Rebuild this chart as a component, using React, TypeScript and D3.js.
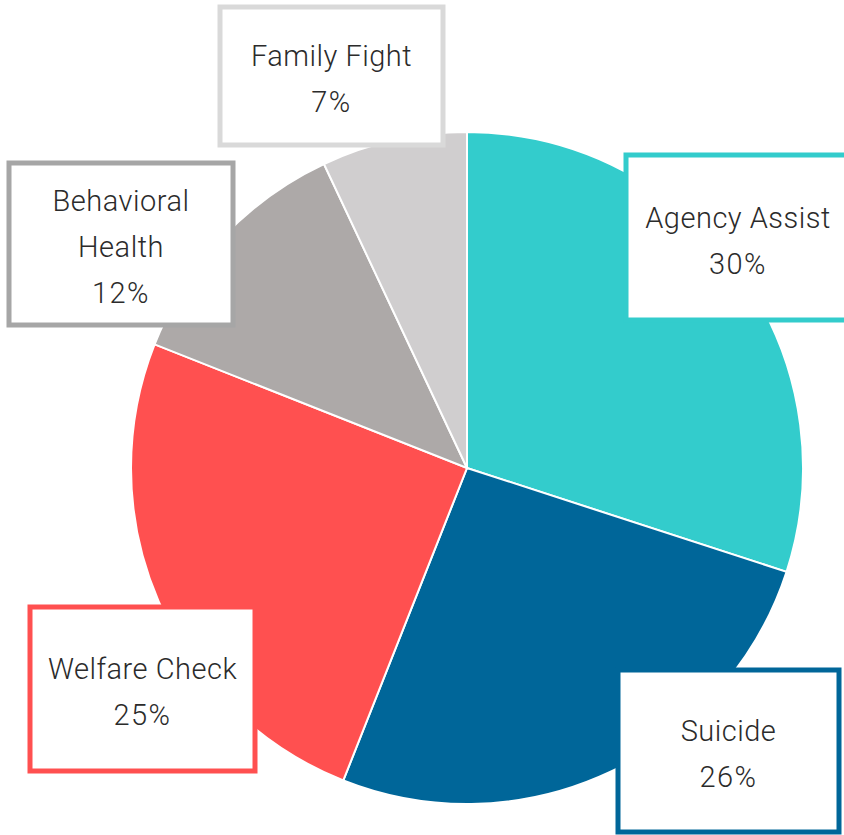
import React from "react";
import * as d3 from "d3";

const categories = ["Agency Assist", "Suicide", "Welfare Check", "Behavioral Health", "Family Fight"];
const values = [30, 26, 25, 12, 7];
const sliceColors = ["#33CCCC", "#006699", "#FF5050", "#ADA9A8", "#D0CECF"];
const borderColors = ["#33CCCC", "#006699", "#FF5050", "#A6A6A6", "#D9D9D9"];
const labelLines = [["Agency Assist"], ["Suicide"], ["Welfare Check"], ["Behavioral", "Health"], ["Family Fight"]];

// label box layout (x, y, w, h) in px
const boxes = [
  { x: 626, y: 155, w: 230, h: 165 },
  { x: 618, y: 670, w: 221, h: 162 },
  { x: 30, y: 607, w: 225, h: 164 },
  { x: 9, y: 163, w: 224, h: 162 },
  { x: 220, y: 7, w: 223, h: 138 },
];

const W = 844, H = 835;
const cx = 467, cy = 468, R = 336;

export default function App() {
  const pie = d3.pie<number>().sort(null).value((d) => d)(values);
  const arc = d3.arc<d3.PieArcDatum<number>>().innerRadius(0).outerRadius(R);
  const total = d3.sum(values);
  const fs = 29;
  const lh = 46;
  return (
    <svg width={W} height={H} style={{ position: "absolute", left: 0, top: 0, background: "#fff" }}
      fontFamily="Roboto, sans-serif">
      <g transform={`translate(${cx},${cy})`}>
        {pie.map((p, i) => (
          <path key={i} d={arc(p) || ""} fill={sliceColors[i]} stroke="#fff" strokeWidth={2} />
        ))}
      </g>
      {boxes.map((b, i) => {
        const lines = [...labelLines[i], `${Math.round((values[i] / total) * 100)}%`];
        const midY = b.y + b.h / 2 + 3;
        const startY = midY - ((lines.length - 1) * lh) / 2;
        return (
          <g key={i}>
            <rect x={b.x} y={b.y} width={b.w} height={b.h} fill="#fff" stroke={borderColors[i]} strokeWidth={5} />
            {lines.map((t, j) => (
              <text key={j} x={b.x + b.w / 2 - (i === 0 ? 3 : 0)} y={startY + j * lh} dy="0.35em" textAnchor="middle"
                fontSize={fs} fill="#2b2b2b" fontWeight={300} letterSpacing={j === lines.length - 1 ? 1.5 : 0.5}>
                {t}
              </text>
            ))}
          </g>
        );
      })}
      <text x={0} y={0} opacity={0}>{categories.join(",")}</text>
    </svg>
  );
}
